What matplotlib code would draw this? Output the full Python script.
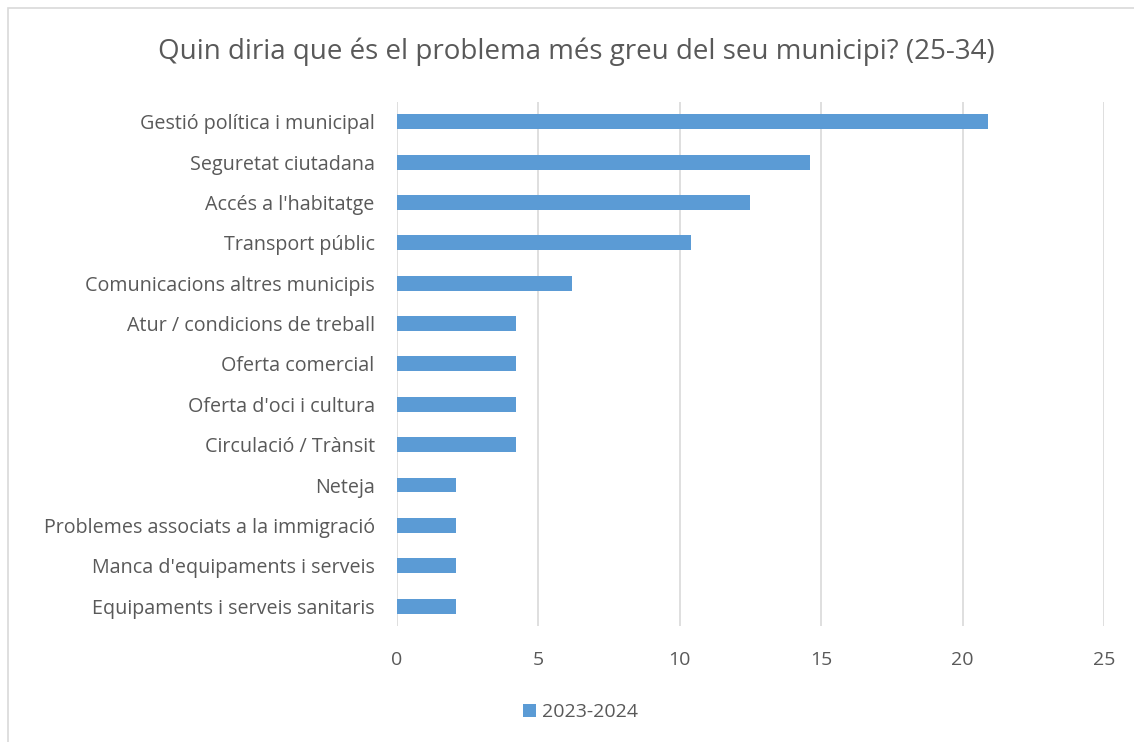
import matplotlib
matplotlib.use('Agg')
import matplotlib.pyplot as plt
from matplotlib.patches import Rectangle

plt.rcParams['font.family'] = ['Open Sans', 'DejaVu Sans']

categories = ['Gestió política i municipal', 'Seguretat ciutadana', "Accés a l'habitatge",
              'Transport públic', 'Comunicacions altres municipis', 'Atur / condicions de treball',
              'Oferta comercial', "Oferta d'oci i cultura", 'Circulació / Trànsit', 'Neteja',
              'Problemes associats a la immigració', "Manca d'equipaments i serveis",
              'Equipaments i serveis sanitaris']
values = [20.9, 14.6, 12.5, 10.4, 6.2, 4.2, 4.2, 4.2, 4.2, 2.1, 2.1, 2.1, 2.1]
series_name = '2023-2024'
ticks = [0, 5, 10, 15, 20, 25]

text_color = '#595959'
fig = plt.figure(figsize=(11.34, 7.42), dpi=100)
fig.patches.append(Rectangle((0.007, -0.01), 1.0, 0.999, transform=fig.transFigure,
                             fill=False, edgecolor='#D9D9D9', linewidth=1.2))
ax = fig.add_axes([0.350, 0.156, 0.6235, 0.707])

y = list(range(len(categories)))
ax.barh(y, values, height=0.37, color='#5B9BD5', label=series_name, zorder=3)
ax.set_ylim(len(categories) - 0.5, -0.5)
ax.set_yticks(y)
ax.set_yticklabels(categories, fontsize=14.2, color=text_color)
ax.set_xlim(0, 25)
ax.set_xticks(ticks)
ax.set_xticklabels([str(t) for t in ticks], fontsize=14, color=text_color)
ax.tick_params(length=0, pad=18, axis='x')
ax.tick_params(length=0, pad=16, axis='y')
ax.grid(axis='x', color='#D9D9D9', linewidth=1.2, zorder=0)
for s in ax.spines.values():
    s.set_visible(False)

fig.suptitle('Quin diria que és el problema més greu del seu municipi? (25-34)',
             x=0.508, y=0.95, fontsize=20, color=text_color)
fig.legend(loc='center', bbox_to_anchor=(0.512, 0.04), frameon=False, fontsize=14,
           handlelength=0.7, handleheight=0.7, handletextpad=0.3, labelcolor=text_color)

fig.savefig('out.png', dpi=100)
